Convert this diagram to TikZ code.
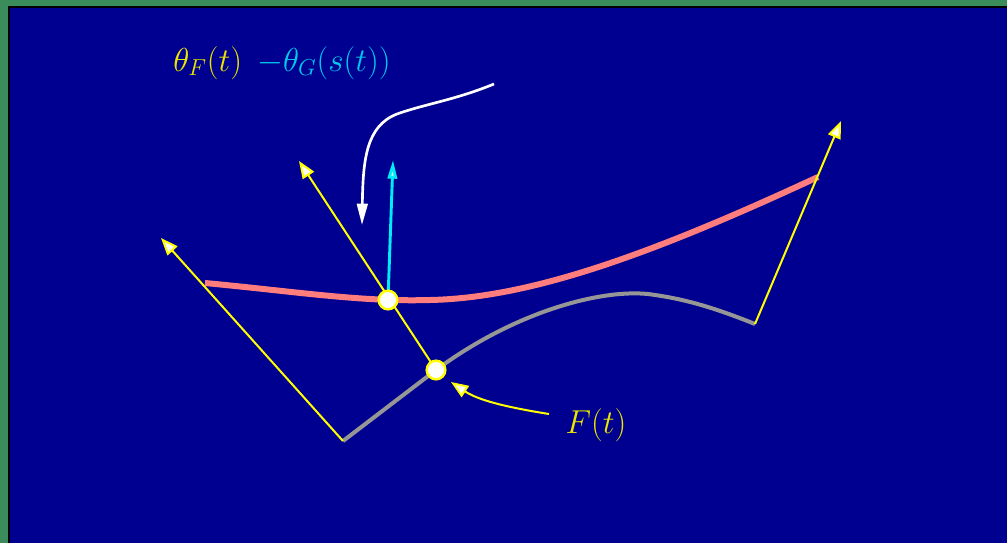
\documentclass[tikz,border=0pt]{standalone}
\usetikzlibrary{arrows.meta}
\definecolor{frgreen}{RGB}{58,140,90}
\definecolor{bg}{RGB}{0,0,144}
\definecolor{pinkc}{RGB}{255,125,125}
\definecolor{grayc}{RGB}{150,150,150}
\definecolor{yel}{RGB}{255,255,0}
\definecolor{yeltext}{RGB}{235,230,0}
\definecolor{cyanc}{RGB}{0,235,245}
\definecolor{cyantext}{RGB}{0,200,235}
\tikzset{
  yline/.style={draw=yel, line width=1.5pt},
  ytip/.style={-{Triangle[length=13pt,width=10pt,fill=white]}},
  dot/.style={circle, draw=yel, fill=white, line width=1.8pt, minimum size=14pt, inner sep=0pt},
  lbl/.style={font=\fontsize{23}{27}\selectfont, inner sep=0pt},
}
\begin{document}
\begin{tikzpicture}[x=0.75pt,y=-0.75pt]
\useasboundingbox (0,0) rectangle (1007,543);
\fill[frgreen] (0,0) rectangle (1007,543);
\fill[black] (8,6) rectangle (1007,543);
\fill[bg] (9.5,7.5) rectangle (1007,543);

% coordinates
\coordinate (A) at (343,441);
\coordinate (Atip) at (161,238);
\coordinate (B) at (755,324);
\coordinate (Btip) at (841,121);
\coordinate (P) at (388,300);
\coordinate (Q) at (436,370);
\coordinate (Ntip) at (299,161);
\coordinate (Ctip) at (393,160);
\coordinate (Wstart) at (494,84);
\coordinate (Wtip) at (362,225);
\coordinate (Fstart) at (549,414);
\coordinate (Ftip) at (451,382);

% curve F (gray)
\draw[grayc, line width=3pt, line join=round] (A) -- (Q)
  .. controls (520,308) and (610,287) .. (655,295)
  .. controls (690,300) and (720,310) .. (B);

% curve G (pink)
\draw[pinkc, line width=4.5pt] (205,283) .. controls (300,292) and (360,302) .. (430,300)
  .. controls (530,298) and (650,255) .. (818,177);

% yellow lines
\draw[yline, ytip] (A) -- (Atip);
\draw[yline, ytip] (B) -- (Btip);
\draw[yline, ytip] (Q) -- (Ntip);

% cyan arrow
\draw[cyanc, line width=2.2pt, -{Triangle[length=14pt,width=7pt,fill=white]}] (P) -- (Ctip);

% white arrow
\draw[white, line width=2pt, -{Triangle[length=16pt,width=8pt]}] (Wstart)
  .. controls (455,100) and (425,104) .. (397,114)
  .. controls (366,126) and (363,160) .. (Wtip);

% yellow curved arrow
\draw[yline, ytip] (Fstart) .. controls (505,407) and (478,400) .. (Ftip);

% dots
\node[dot] (p) at (P) {};
\node[dot] (q) at (Q) {};

% labels
\node[lbl, text=yeltext] (ft) at (596,425) {$F(t)$};
\node[lbl, text=yeltext, anchor=base west] (thf) at (173,71) {$\theta_F(t)$};
\node[lbl, text=cyantext, anchor=base west] (thg) at (257,71) {$-\theta_G(s(t))$};
\end{tikzpicture}
\end{document}
